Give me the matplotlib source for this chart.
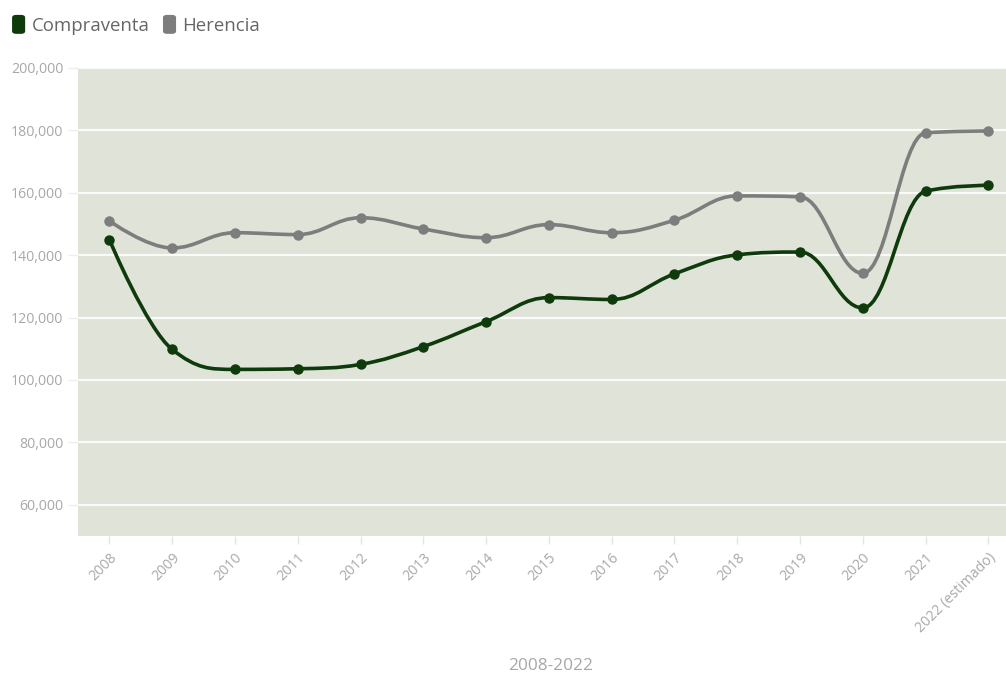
import numpy as np
import matplotlib
matplotlib.use('Agg')
import matplotlib.pyplot as plt
from matplotlib.path import Path
from matplotlib.patches import PathPatch, FancyBboxPatch
from matplotlib.ticker import FuncFormatter

years = ['2008', '2009', '2010', '2011', '2012', '2013', '2014', '2015',
         '2016', '2017', '2018', '2019', '2020', '2021', '2022 (estimado)']
compraventa = [145000, 109800, 103400, 103600, 105000, 110700, 118700, 126400,
               125800, 134000, 140100, 141000, 123100, 160500, 162400]
herencia = [151000, 142300, 147200, 146600, 152000, 148400, 145600, 149800,
            147200, 151200, 159000, 158700, 134200, 179200, 179800]

GREEN = '#0e3a0c'
GREY = '#7d7d7d'
BG = '#dfe3d8'
TXT = '#a8a8a8'

plt.rcParams['font.family'] = ['Open Sans', 'DejaVu Sans']


def spline_path(xs, ys, smoothing=1.5):
    # Highcharts-like spline: cubic bezier segments with smoothed control points
    n = len(xs)
    left = [(xs[i], ys[i]) for i in range(n)]
    right = [(xs[i], ys[i]) for i in range(n)]
    denom = smoothing + 1
    for i in range(1, n - 1):
        x, y = xs[i], ys[i]
        lx, ly = xs[i - 1], ys[i - 1]
        nx_, ny = xs[i + 1], ys[i + 1]
        lcx = (smoothing * x + lx) / denom
        lcy = (smoothing * y + ly) / denom
        rcx = (smoothing * x + nx_) / denom
        rcy = (smoothing * y + ny) / denom
        if rcx != lcx:
            corr = ((rcy - lcy) * (rcx - x)) / (rcx - lcx) + y - rcy
            lcy += corr
            rcy += corr
        if lcy > ly and lcy > y:
            lcy = max(ly, y)
            rcy = 2 * y - lcy
        elif lcy < ly and lcy < y:
            lcy = min(ly, y)
            rcy = 2 * y - lcy
        if rcy > ny and rcy > y:
            rcy = max(ny, y)
            lcy = 2 * y - rcy
        elif rcy < ny and rcy < y:
            rcy = min(ny, y)
            lcy = 2 * y - rcy
        left[i] = (lcx, lcy)
        right[i] = (rcx, rcy)
    verts = [(xs[0], ys[0])]
    codes = [Path.MOVETO]
    for i in range(1, n):
        verts += [right[i - 1], left[i], (xs[i], ys[i])]
        codes += [Path.CURVE4] * 3
    return Path(verts, codes)


fig = plt.figure(figsize=(10.06, 6.77), dpi=100)
ax = fig.add_axes([0.0775, 0.2083, 0.9225, 0.6913])
ax.set_facecolor(BG)

x = np.arange(len(years))
for series, color in [(herencia, GREY), (compraventa, GREEN)]:
    ax.add_patch(PathPatch(spline_path(list(x), series), facecolor='none',
                           edgecolor=color, lw=2.6, zorder=3))
    ax.plot(x, series, 'o', color=color, ms=6.5, zorder=4)

ax.set_ylim(50000, 200000)
ax.set_xlim(-0.5, 14.28)
ax.set_yticks(range(60000, 200001, 20000))
ax.yaxis.set_major_formatter(FuncFormatter(lambda v, p: f'{int(v):,}'))
ax.grid(axis='y', color='white', lw=1.6, alpha=0.85)
ax.set_axisbelow(True)
for s in ax.spines.values():
    s.set_visible(False)

ax.set_xticks(x)
ax.set_xticklabels(years, rotation=45, ha='right', rotation_mode='anchor')
ax.tick_params(axis='x', colors='#e4e4e4', length=6, width=1, pad=4,
               labelsize=10.2, labelcolor=TXT)
ax.tick_params(axis='y', colors='#eeeeee', length=7, width=1, pad=3.5,
               labelsize=10.2, labelcolor=TXT)

fig.text(0.547, 0.0105, '2008-2022', color=TXT, fontsize=12.4, ha='center')

# legend
for lx, label, color in [(0.012, 'Compraventa', GREEN), (0.162, 'Herencia', GREY)]:
    fig.patches.append(FancyBboxPatch((lx, 0.950), 0.013, 0.028,
                                      boxstyle='round,pad=0,rounding_size=0.004',
                                      transform=fig.transFigure, facecolor=color,
                                      edgecolor='none'))
    fig.text(lx + 0.0195, 0.962, label, color='#666666', fontsize=13.4,
             va='center', ha='left')

fig.savefig('out.png', dpi=100)
